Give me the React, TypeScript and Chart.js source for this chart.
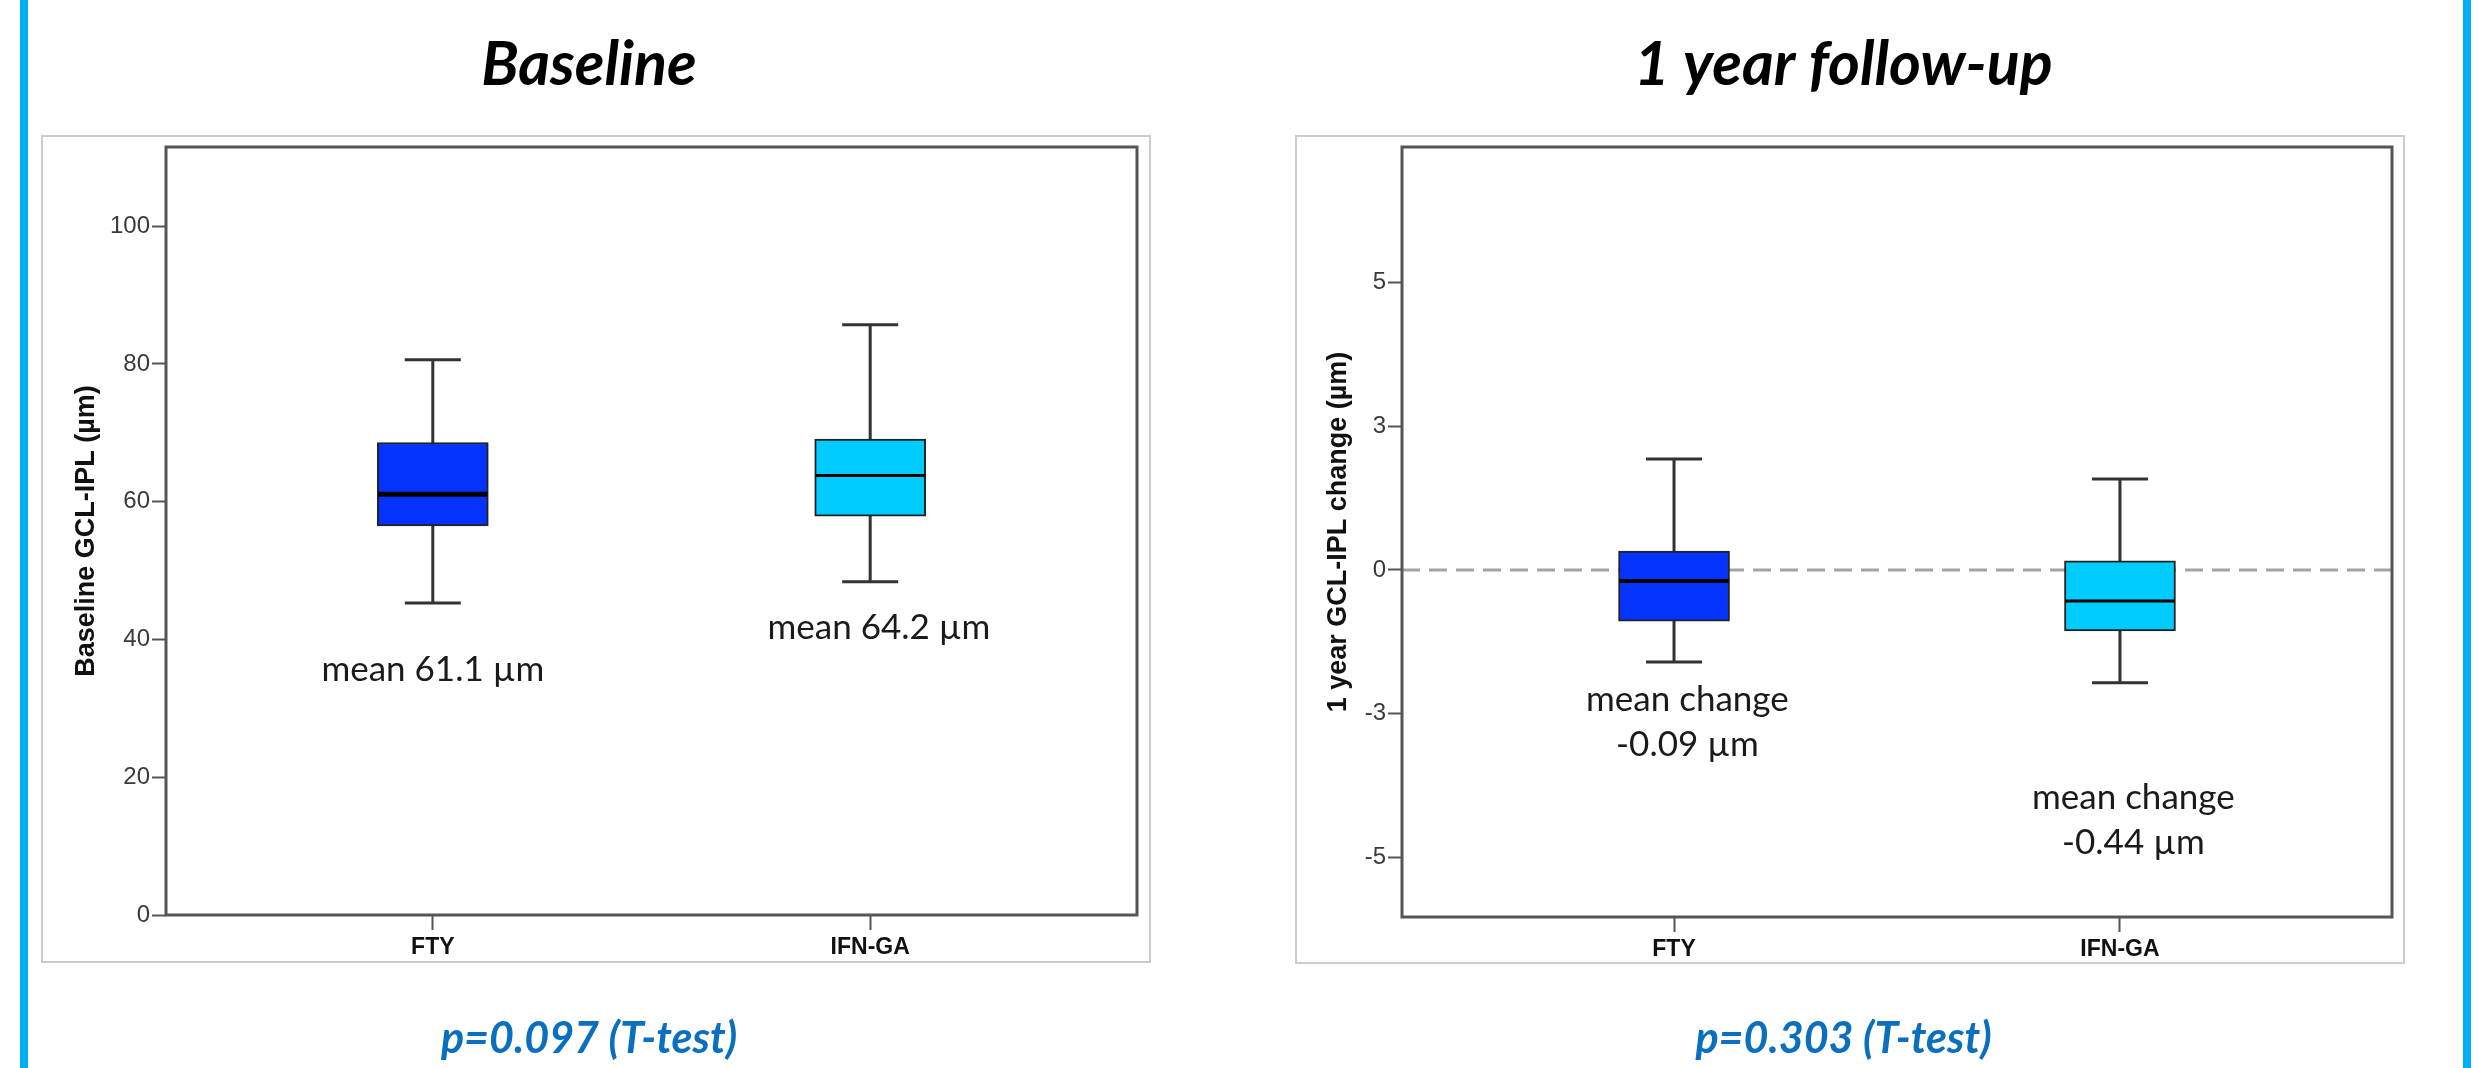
import { useEffect, useRef } from 'react';
import { Chart, registerables } from 'chart.js';

Chart.register(...registerables);

// ---------- data ----------
const categories = ['FTY', 'IFN-GA'];
const boxColors = ['#0433ff', '#00ccff'];

// Baseline GCL-IPL (µm)
const baselineMin = [45.3, 48.4];
const baselineQ1 = [56.5, 57.9];
const baselineMedian = [61.1, 63.8];
const baselineQ3 = [68.6, 69.1];
const baselineMax = [80.6, 85.7];
const baselineTicks = [0, 20, 40, 60, 80, 100];
const baselineTickLabels = ['0', '20', '40', '60', '80', '100'];
const baselineMeans = [['mean 61.1 µm'], ['mean 64.2 µm']];

// 1 year GCL-IPL change (µm)
const changeMin = [-1.6, -1.96];
const changeQ1 = [-0.89, -1.06];
const changeMedian = [-0.19, -0.54];
const changeQ3 = [0.33, 0.16];
const changeMax = [1.93, 1.58];
const changeTicks = [-5, -2.5, 0, 2.5, 5];
const changeTickLabels = ['-5', '-3', '0', '3', '5'];
const changeMeans = [['mean change', '-0.09 µm'], ['mean change', '-0.44 µm']];

// ---------- styles / layout ----------
const H = 1068;
const AXIS_FONT = "'Liberation Sans', Arial, sans-serif";
const TEXT_FONT = "Lato, 'Open Sans', sans-serif";

type Panel = {
  title: string;
  pText: string;
  yTitle: string;
  min: number[];
  q1: number[];
  median: number[];
  q3: number[];
  max: number[];
  yMin: number;
  yMax: number;
  yTicks: number[];
  yTickLabels: string[];
  means: string[][];
  meanPos: { x: number; y: number }[];
  medianWidths: number[];
  zeroLine: boolean;
  canvasLeft: number;
  canvasWidth: number;
  padLeft: number;
  padRight: number;
  yAxisWidth: number;
  xAxisHeight: number;
  yTitlePad: number;
  subPadTop: number;
  subPadBottom: number;
  frame: { x: number; y: number; w: number; h: number };
};

const leftPanel: Panel = {
  title: 'Baseline',
  pText: 'p=0.097 (T-test)',
  yTitle: 'Baseline GCL-IPL (µm)',
  min: baselineMin,
  q1: baselineQ1,
  median: baselineMedian,
  q3: baselineQ3,
  max: baselineMax,
  yMin: 0,
  yMax: 111.5,
  yTicks: baselineTicks,
  yTickLabels: baselineTickLabels,
  means: baselineMeans,
  meanPos: [
    { x: 1.0, y: 34.0 },
    { x: 2.02, y: 40.0 },
  ],
  medianWidths: [5, 3],
  zeroLine: false,
  canvasLeft: 0,
  canvasWidth: 1184,
  padLeft: 41,
  padRight: 47,
  yAxisWidth: 125,
  xAxisHeight: 48,
  yTitlePad: 29,
  subPadTop: 50,
  subPadBottom: 3,
  frame: { x: 41, y: 135, w: 1110, h: 828 },
};

const rightPanel: Panel = {
  title: '1 year follow-up',
  pText: 'p=0.303 (T-test)',
  yTitle: '1 year GCL-IPL change (µm)',
  min: changeMin,
  q1: changeQ1,
  median: changeMedian,
  q3: changeQ3,
  max: changeMax,
  yMin: -6.03,
  yMax: 7.35,
  yTicks: changeTicks,
  yTickLabels: changeTickLabels,
  means: changeMeans,
  meanPos: [
    { x: 1.03, y: -2.45 },
    { x: 2.03, y: -4.16 },
  ],
  medianWidths: [4, 3],
  zeroLine: true,
  canvasLeft: 1240,
  canvasWidth: 1208,
  padLeft: 55,
  padRight: 56,
  yAxisWidth: 107,
  xAxisHeight: 47,
  yTitlePad: 27,
  subPadTop: 49,
  subPadBottom: 3,
  frame: { x: 55, y: 135, w: 1110, h: 829 },
};

const BOX_WIDTH = 111;
const CAP_WIDTH = 56;

function buildConfig(p: Panel): any {
  const boxPlugin = {
    id: 'boxExtras',
    beforeDatasetsDraw(chart: any) {
      const ctx = chart.ctx;
      const xs = chart.scales.x;
      const ys = chart.scales.y;
      const area = chart.chartArea;
      ctx.save();
      // panel frame
      ctx.strokeStyle = '#cccccc';
      ctx.lineWidth = 2;
      ctx.strokeRect(p.frame.x + 1, p.frame.y + 1, p.frame.w - 2, p.frame.h - 2);
      // zero reference line
      if (p.zeroLine) {
        const y0 = ys.getPixelForValue(0);
        ctx.strokeStyle = '#a3a3a3';
        ctx.lineWidth = 3;
        ctx.setLineDash([18, 9]);
        ctx.beginPath();
        ctx.moveTo(area.left, y0);
        ctx.lineTo(area.right, y0);
        ctx.stroke();
        ctx.setLineDash([]);
      }
      // whiskers
      ctx.strokeStyle = '#333333';
      ctx.lineWidth = 3;
      categories.forEach((_, i) => {
        const x = xs.getPixelForValue(i + 1);
        const yTop = ys.getPixelForValue(p.max[i]);
        const yBot = ys.getPixelForValue(p.min[i]);
        ctx.beginPath();
        ctx.moveTo(x, yTop);
        ctx.lineTo(x, yBot);
        ctx.moveTo(x - CAP_WIDTH / 2, yTop);
        ctx.lineTo(x + CAP_WIDTH / 2, yTop);
        ctx.moveTo(x - CAP_WIDTH / 2, yBot);
        ctx.lineTo(x + CAP_WIDTH / 2, yBot);
        ctx.stroke();
      });
      ctx.restore();
    },
    afterDatasetsDraw(chart: any) {
      const ctx = chart.ctx;
      const xs = chart.scales.x;
      const ys = chart.scales.y;
      const area = chart.chartArea;
      ctx.save();
      // medians
      ctx.strokeStyle = '#000000';
      categories.forEach((_, i) => {
        const x = xs.getPixelForValue(i + 1);
        const y = ys.getPixelForValue(p.median[i]);
        ctx.lineWidth = p.medianWidths[i];
        ctx.beginPath();
        ctx.moveTo(x - BOX_WIDTH / 2 + 1, y);
        ctx.lineTo(x + BOX_WIDTH / 2 - 1, y);
        ctx.stroke();
      });
      // plot frame
      ctx.strokeStyle = '#555555';
      ctx.lineWidth = 3;
      ctx.strokeRect(area.left, area.top, area.right - area.left, area.bottom - area.top);
      // mean annotations
      ctx.fillStyle = '#1a1a1a';
      ctx.font = `35px ${TEXT_FONT}`;
      ctx.textAlign = 'center';
      ctx.textBaseline = 'alphabetic';
      p.means.forEach((lines, i) => {
        const x = xs.getPixelForValue(p.meanPos[i].x);
        const y = ys.getPixelForValue(p.meanPos[i].y);
        lines.forEach((line, j) => ctx.fillText(line, x, y + j * 45));
      });
      ctx.restore();
    },
  };

  return {
    type: 'bar',
    data: {
      datasets: [
        {
          data: categories.map((_, i) => ({ x: i + 1, y: [p.q1[i], p.q3[i]] })),
          backgroundColor: boxColors,
          borderColor: '#222222',
          borderWidth: 2,
          borderSkipped: false,
          barThickness: BOX_WIDTH,
        },
      ],
    },
    options: {
      animation: false,
      responsive: false,
      devicePixelRatio: 1,
      layout: { padding: { left: p.padLeft, right: p.padRight, top: 0, bottom: 0 } },
      plugins: {
        legend: { display: false },
        tooltip: { enabled: false },
        title: {
          display: true,
          text: p.title,
          color: '#000000',
          font: { family: TEXT_FONT, size: 61, style: 'italic', weight: 'bold', lineHeight: '62px' },
          padding: { top: 34, bottom: 51 },
        },
        subtitle: {
          display: true,
          position: 'bottom',
          text: p.pText,
          color: '#0b6fc0',
          font: { family: TEXT_FONT, size: 43, style: 'italic', weight: 'bold', lineHeight: '52px' },
          padding: { top: p.subPadTop, bottom: p.subPadBottom },
        },
      },
      scales: {
        x: {
          type: 'linear',
          min: 0.39,
          max: 2.61,
          offset: false,
          border: { display: false },
          grid: {
            display: true,
            drawOnChartArea: false,
            drawTicks: true,
            tickLength: 15,
            tickWidth: 2,
            tickColor: '#555555',
            offset: false,
          },
          afterBuildTicks: (scale: any) => {
            scale.ticks = categories.map((_, i) => ({ value: i + 1 }));
          },
          afterFit: (scale: any) => {
            scale.height = p.xAxisHeight;
          },
          ticks: {
            autoSkip: false,
            maxRotation: 0,
            padding: 4,
            color: '#111111',
            font: { family: AXIS_FONT, size: 23, weight: 'bold' },
            callback: (_v: any, index: number) => categories[index],
          },
        },
        y: {
          type: 'linear',
          min: p.yMin,
          max: p.yMax,
          bounds: 'data',
          border: { display: false },
          grid: {
            display: true,
            drawOnChartArea: false,
            drawTicks: true,
            tickLength: 14,
            tickWidth: 2,
            tickColor: '#555555',
          },
          afterBuildTicks: (scale: any) => {
            scale.ticks = p.yTicks.map((v) => ({ value: v }));
          },
          afterFit: (scale: any) => {
            scale.width = p.yAxisWidth;
          },
          ticks: {
            autoSkip: false,
            padding: 2,
            color: '#3a3a3a',
            font: { family: AXIS_FONT, size: 24 },
            callback: (_v: any, index: number) => p.yTickLabels[index],
          },
          title: {
            display: true,
            text: p.yTitle,
            color: '#111111',
            font: { family: AXIS_FONT, size: 27, weight: 'bold', lineHeight: 1.2 },
            padding: { top: p.yTitlePad, bottom: 0 },
          },
        },
      },
    },
    plugins: [boxPlugin],
  };
}

function BoxPanel({ panel }: { panel: Panel }) {
  const ref = useRef<HTMLCanvasElement>(null);
  useEffect(() => {
    const chart = new Chart(ref.current as HTMLCanvasElement, buildConfig(panel));
    return () => chart.destroy();
  }, [panel]);
  return (
    <canvas
      ref={ref}
      width={panel.canvasWidth}
      height={H}
      style={{
        position: 'absolute',
        left: panel.canvasLeft,
        top: 0,
        width: panel.canvasWidth,
        height: H,
        display: 'block',
      }}
    />
  );
}

export default function App() {
  useEffect(() => {
    document.body.style.margin = '0';
    document.body.style.overflow = 'hidden';
    document.body.style.background = '#ffffff';
  }, []);
  return (
    <div
      style={{
        position: 'relative',
        width: 2479,
        height: H,
        background: '#ffffff',
        overflow: 'hidden',
      }}
    >
      <div style={{ position: 'absolute', left: 20, top: 0, width: 8, height: H, background: '#00b0f0' }} />
      <div style={{ position: 'absolute', left: 2463, top: 0, width: 8, height: H, background: '#00b0f0' }} />
      <BoxPanel panel={leftPanel} />
      <BoxPanel panel={rightPanel} />
    </div>
  );
}
